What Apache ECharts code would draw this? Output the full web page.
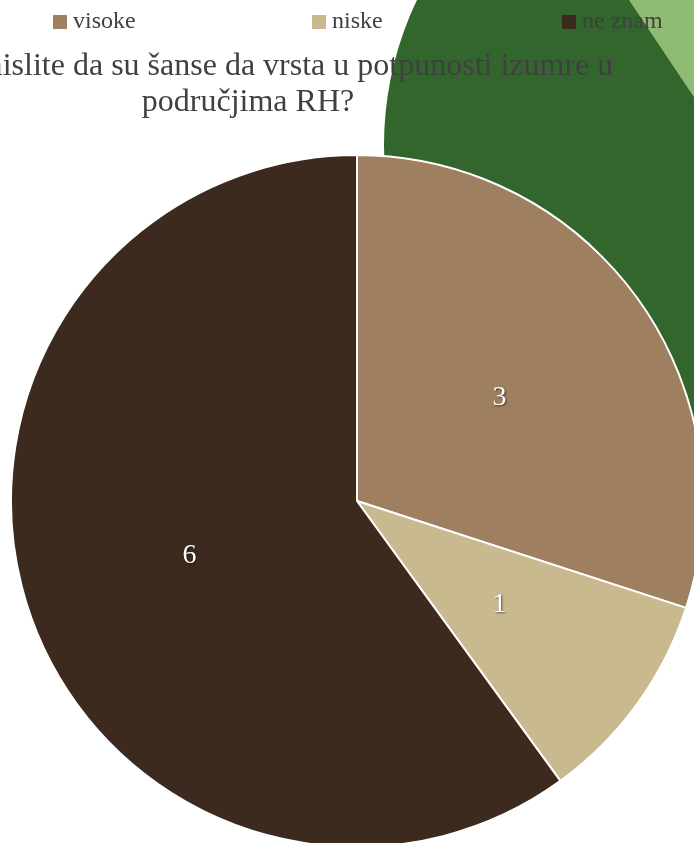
<!DOCTYPE html>
<html><head><meta charset="utf-8">
<script src="https://cdn.jsdelivr.net/npm/echarts@6/dist/echarts.min.js"></script>
<style>html,body{margin:0;padding:0;background:#fff}#c{width:694px;height:843px}</style>
</head><body><div id="c"></div>
<script>
const categories = ['visoke', 'niske', 'ne znam'];
const values = [3, 1, 6];
const titleText = 'Kolike mislite da su šanse da vrsta u potpunosti izumre u\npodručjima RH?';

const chart = echarts.init(document.getElementById('c'), null, {renderer: 'canvas'});
const font = '"Liberation Serif", "DejaVu Serif", serif';
const legendLeft = [53, 312, 562];
const option = {
  backgroundColor: '#ffffff',
  animation: false,
  color: ['#9E7F5F', '#C8B98E', '#3C2A1E'],
  title: {
    text: titleText, left: 248, top: 49, padding: 0, textAlign: 'center',
    textStyle: {fontFamily: font, fontSize: 32, fontWeight: 'normal', color: '#404040', lineHeight: 36}
  },
  legend: categories.map((c, i) => ({
    data: [c], left: legendLeft[i], top: 9, padding: 0, icon: 'rect',
    itemWidth: 14, itemHeight: 14, itemGap: 0, selectedMode: false,
    itemStyle: {borderWidth: 0},
    textStyle: {fontFamily: font, fontSize: 24, color: '#404040', lineHeight: 26, padding: [0, 0, 0, 1]}
  })),
  graphic: [
    {type: 'circle', shape: {cx: 719, cy: 145, r: 335}, style: {fill: '#33662D'}, z: 0, silent: true},
    {type: 'polygon', shape: {points: [[629, 0], [780, 0], [780, 226]]}, style: {fill: '#8FBB73'}, z: 1, silent: true}
  ],
  series: [{
    type: 'pie', center: [357, 501], radius: 346, startAngle: 90, clockwise: true,
    data: categories.map((c, i) => ({name: c, value: values[i]})),
    itemStyle: {borderColor: '#ffffff', borderWidth: 2},
    label: {
      show: true, position: 'inside', formatter: '{c}', fontFamily: font, fontSize: 28, color: '#ffffff',
      textShadowColor: 'rgba(0,0,0,0.6)', textShadowBlur: 2, textShadowOffsetX: 1, textShadowOffsetY: 1
    },
    labelLine: {show: false},
    emphasis: {disabled: true},
    z: 2
  }]
};
chart.setOption(option);
</script>
</body></html>
